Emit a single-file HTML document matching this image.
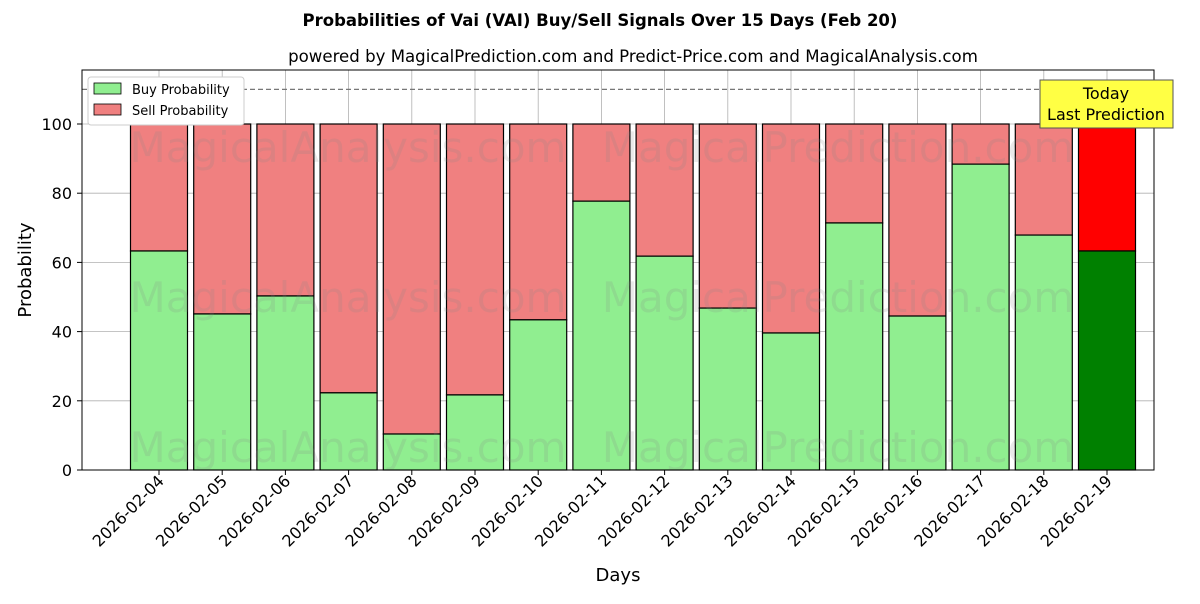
<!DOCTYPE html>
<html><head><meta charset="utf-8"><style>
body{margin:0;background:#fff;font-family:"DejaVu Sans","Liberation Sans",sans-serif;}
svg text{font-family:"DejaVu Sans","Liberation Sans",sans-serif;}
</style></head><body>
<svg id="chart" width="1200" height="600" xmlns="http://www.w3.org/2000/svg">
<rect width="1200" height="600" fill="#fff"/>
<text x="600" y="26" text-anchor="middle" font-size="16.5" font-weight="bold">Probabilities of Vai (VAI) Buy/Sell Signals Over 15 Days (Feb 20)</text>
<text x="633" y="62" text-anchor="middle" font-size="16.6">powered by MagicalPrediction.com and Predict-Price.com and MagicalAnalysis.com</text>
<g id="grid"></g>
<g id="bars"></g>
<g id="wm" font-size="42" fill="#888" opacity="0.18">
<text x="348" y="162" text-anchor="middle">MagicalAnalysis.com</text>
<text x="838" y="162" text-anchor="middle">MagicalPrediction.com</text>
<text x="348" y="312" text-anchor="middle">MagicalAnalysis.com</text>
<text x="838" y="312" text-anchor="middle">MagicalPrediction.com</text>
<text x="348" y="462" text-anchor="middle">MagicalAnalysis.com</text>
<text x="838" y="462" text-anchor="middle">MagicalPrediction.com</text>
</g>
<line x1="82" x2="1154" y1="89.4" y2="89.4" stroke="#777" stroke-dasharray="5,3" stroke-width="1.2"/>
<rect x="82" y="70" width="1072" height="400" fill="none" stroke="#000" stroke-width="1"/>
<g id="axes"></g>
<text transform="translate(31,270) rotate(-90)" text-anchor="middle" font-size="18">Probability</text>
<text x="618" y="581" text-anchor="middle" font-size="18">Days</text>
<g>
<rect x="88" y="77" width="156" height="48" fill="#fff" stroke="#ccc" rx="3"/>
<rect x="94" y="83" width="27" height="11" fill="#90ee90" stroke="#000" stroke-width="0.8"/>
<text x="132" y="94" font-size="13">Buy Probability</text>
<rect x="94" y="104" width="27" height="11" fill="#f08080" stroke="#000" stroke-width="0.8"/>
<text x="132" y="115" font-size="13">Sell Probability</text>
</g>
<g>
<rect x="1040" y="80" width="133" height="48" fill="#ffff44" stroke="#555"/>
<text x="1106" y="99" text-anchor="middle" font-size="16">Today</text>
<text x="1106" y="120" text-anchor="middle" font-size="16">Last Prediction</text>
</g>
</svg>
<script>
const dates=["2026-02-04","2026-02-05","2026-02-06","2026-02-07","2026-02-08","2026-02-09","2026-02-10","2026-02-11","2026-02-12","2026-02-13","2026-02-14","2026-02-15","2026-02-16","2026-02-17","2026-02-18","2026-02-19"];
const buy=[63.3,45.1,50.3,22.3,10.4,21.7,43.4,77.7,61.8,46.8,39.6,71.4,44.5,88.4,67.9,63.3];
const yTicks=[0,20,40,60,80,100];
const NS="http://www.w3.org/2000/svg";
const y=v=>470-v*3.46;
const x=i=>159+i*63.2;
const bw=57;
function mk(tag,attrs,parent){const e=document.createElementNS(NS,tag);for(const k in attrs)e.setAttribute(k,attrs[k]);parent.appendChild(e);return e;}
const grid=document.getElementById('grid'),bars=document.getElementById('bars'),axes=document.getElementById('axes');
yTicks.forEach(t=>{
 const g=mk('line',{x1:82,x2:1154,y1:y(t),y2:y(t),stroke:'#b0b0b0','stroke-width':0.8},grid);
 
 
 mk('line',{x1:77,x2:82,y1:y(t),y2:y(t),stroke:'#000'},axes);
 const tx=mk('text',{x:72,y:y(t)+6,'text-anchor':'end','font-size':16},axes);
 tx.textContent=t;
 
 
});
dates.forEach((d,i)=>{
 const cx=x(i);
 const gl=mk('line',{x1:cx,x2:cx,y1:70,y2:470,stroke:'#b0b0b0','stroke-width':0.8},grid);
 
 
 const last=i===dates.length-1;
 const s=mk('rect',{x:cx-bw/2,y:y(100),width:bw,height:y(buy[i])-y(100),fill:last?'#ff0000':'#f08080',stroke:'#000','stroke-width':1.2},bars);
 
 
 const b=mk('rect',{x:cx-bw/2,y:y(buy[i]),width:bw,height:y(0)-y(buy[i]),fill:last?'#008000':'#90ee90',stroke:'#000','stroke-width':1.2},bars);
 
 
 mk('line',{x1:cx,x2:cx,y1:470,y2:475,stroke:'#000'},axes);
 const t=mk('text',{transform:`translate(${cx+6},${482}) rotate(-45)`,'text-anchor':'end','font-size':16},axes);
 t.textContent=d;
 
 
});
</script>
</body></html>
